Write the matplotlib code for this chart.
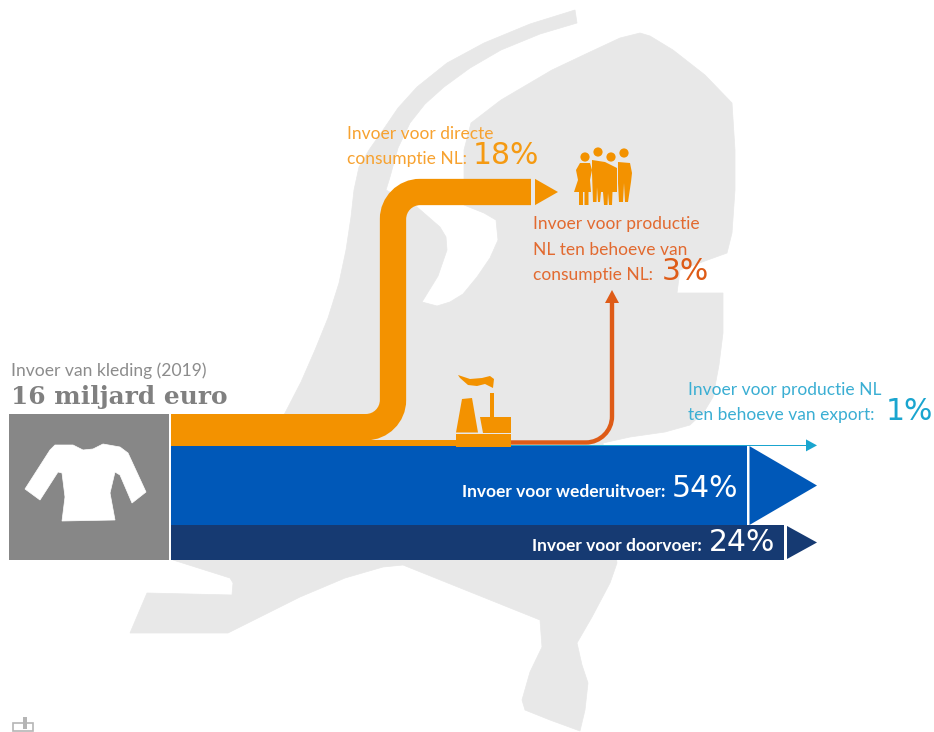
import matplotlib
matplotlib.use("Agg")
import matplotlib.pyplot as plt
from matplotlib.patches import Polygon, Rectangle, Circle, PathPatch
from matplotlib.path import Path

# values from the picture, share of the import in percent
categories = ["Invoer voor directe consumptie NL", "Invoer voor productie NL ten behoeve van consumptie NL",
              "Invoer voor productie NL ten behoeve van export", "Invoer voor wederuitvoer", "Invoer voor doorvoer"]
shares = [18, 3, 1, 54, 24]
share_labels = ["18%", "3%", "1%", "54%", "24%"]
total_label = "16 miljard euro"
total_title = "Invoer van kleding (2019)"

ORANGE = "#F39200"
RUST = "#DE5B17"
TEAL = "#1AA5CF"
BLUE = "#0058B8"
NAVY = "#163A72"
LAND = "#E8E8E8"
GREY = "#878787"

PX_PER_PCT = 1.46
TOP = 414
START = 171


def px(n):
    return n * 72 / 100


# outline of the country behind the flows, in figure pixels
land_outline = [(575, 10), (530, 24), (484, 43), (447, 63), (417, 87), (398, 108), (383, 130), (369, 150), (359, 167),
                (354, 190), (351, 217), (346, 250), (339, 283), (328, 318), (315, 350), (301, 382), (285, 413),
                (250, 470), (173, 560), (230, 578), (233, 583), (232, 595), (147, 593), (130, 633), (228, 633),
                (300, 597), (345, 578), (383, 567), (403, 565), (540, 620), (542, 647), (530, 672), (522, 700),
                (525, 710), (550, 720), (580, 731), (585, 710), (588, 683), (582, 665), (577, 643), (592, 617),
                (610, 583), (617, 563), (603, 443), (630, 437), (665, 432), (690, 425), (704, 412), (713, 397),
                (719, 365), (723, 333), (723, 293), (677, 293), (680, 270), (727, 253), (732, 233), (735, 190),
                (735, 150), (732, 103), (705, 75), (673, 50), (650, 36), (640, 33), (620, 38), (590, 52), (552, 70),
                (501, 100), (471, 123), (464, 150), (464, 205), (484, 213), (496, 220), (498, 240), (490, 258),
                (477, 277), (463, 294), (450, 302), (437, 306), (422, 302), (438, 276), (447, 250), (446, 237),
                (440, 227), (417, 207), (386, 190), (390, 177), (398, 148), (410, 123), (425, 104), (444, 87),
                (470, 68), (501, 50), (540, 34), (577, 23)]

shirt_outline = [(73, 95), (83, 100), (93, 99), (103, 94), (120, 97), (128, 103), (146, 142), (132, 153), (120, 125),
                 (115, 122), (110, 143), (115, 170), (62, 171), (65, 147), (62, 123), (58, 122), (40, 150), (25, 139),
                 (50, 100), (55, 95)]

fig = plt.figure(figsize=(9.34, 7.32), dpi=100)
ax = fig.add_axes([0, 0, 1, 1])
ax.set_xlim(0, 934)
ax.set_ylim(732, 0)
ax.axis("off")

ax.add_patch(Polygon(land_outline, closed=True, fc=LAND, ec=LAND, lw=0.5, zorder=1))

# stack of the flows, heights follow the shares
heights = [s * PX_PER_PCT for s in shares]
tops = [TOP + sum(heights[:i]) for i in range(len(heights))]

# 18%: horizontal, up and to the right
w = heights[0]
cy = tops[0] + w / 2
cx = 393
top_y = 192
r = 27
k = 0.55
verts = [(START, cy), (cx - r, cy), (cx - r + k * r, cy), (cx, cy - r + k * r), (cx, cy - r), (cx, top_y + r),
         (cx, top_y + r - k * r), (cx + r - k * r, top_y), (cx + r, top_y), (531, top_y)]
codes = [Path.MOVETO, Path.LINETO, Path.CURVE4, Path.CURVE4, Path.CURVE4, Path.LINETO,
         Path.CURVE4, Path.CURVE4, Path.CURVE4, Path.LINETO]
ax.add_patch(PathPatch(Path(verts, codes), fc="none", ec=ORANGE, lw=px(w), capstyle="butt", zorder=3))
ax.add_patch(Polygon([(535, top_y - w / 2), (558, top_y), (535, top_y + w / 2)], fc=ORANGE, ec="none", zorder=3))

# 3%: runs into the factory, comes out in rust and goes up
w = heights[1]
cy = tops[1] + w / 2
ax.add_patch(Rectangle((START, tops[1]), 286, w + heights[2], fc=ORANGE, ec="none", zorder=3))
lx = 612
r = 26
verts = [(505, cy), (lx - r, cy), (lx - r + k * r, cy), (lx, cy - r + k * r), (lx, cy - r), (lx, 301)]
codes = [Path.MOVETO, Path.LINETO, Path.CURVE4, Path.CURVE4, Path.CURVE4, Path.LINETO]
ax.add_patch(PathPatch(Path(verts, codes), fc="none", ec=RUST, lw=px(w), capstyle="butt", zorder=3))
ax.add_patch(Polygon([(605, 303), (612, 290), (619, 303)], fc=RUST, ec="none", zorder=3))

# 1%: thin line with arrow
w = heights[2]
cy = tops[2] + w / 2
ax.add_patch(Rectangle((505, tops[2]), 302, w, fc=TEAL, ec="none", zorder=3))
ax.add_patch(Polygon([(806, cy - 6), (817, cy), (806, cy + 6)], fc=TEAL, ec="none", zorder=3))

# 54% and 24%: bars with a separate head
ax.add_patch(Rectangle((START, tops[3]), 576, heights[3], fc=BLUE, ec="none", zorder=2))
ax.add_patch(Polygon([(749.5, tops[3]), (817, tops[3] + heights[3] / 2), (749.5, tops[3] + heights[3])],
                     fc=BLUE, ec="none", zorder=2))
ax.add_patch(Rectangle((START, tops[4]), 613, heights[4], fc=NAVY, ec="none", zorder=2))
ax.add_patch(Polygon([(787, tops[4] + 1), (817, tops[4] + heights[4] / 2), (787, tops[4] + heights[4] - 1)],
                     fc=NAVY, ec="none", zorder=2))

# grey block with the shirt
ax.add_patch(Rectangle((8.5, 413.5), 160.5, 146, fc=GREY, ec="none", zorder=2))
ax.add_patch(Polygon([(x, y + 350) for x, y in shirt_outline], fc="white", ec="white", lw=0.5, zorder=3))

# factory
ax.add_patch(Rectangle((456, 434), 55, 13, fc=ORANGE, ec="none", zorder=4))
ax.add_patch(Polygon([(456, 432.5), (462, 399), (472, 398), (478, 432.5)], fc=ORANGE, ec="none", zorder=4))
ax.add_patch(Polygon([(480, 417), (511, 417), (511, 432.5), (483, 432.5)], fc=ORANGE, ec="none", zorder=4))
ax.add_patch(Rectangle((489.5, 393), 4, 25, fc=ORANGE, ec="none", zorder=4))
ax.add_patch(Polygon([(458, 375), (470, 379), (482, 378), (490, 376), (494, 379), (493, 388), (485, 384), (477, 386),
                      (468, 385), (460, 378)], fc=ORANGE, ec="none", zorder=4))

# people
for hx, hy in [(585, 157), (598, 152), (611, 157), (624, 153)]:
    ax.add_patch(Circle((hx, hy), 4.6, fc=ORANGE, ec="none", zorder=4))
people = [
    [(580, 163), (590, 163), (592, 170), (590, 180), (591, 192), (588.5, 192), (588.5, 205), (584.5, 205), (584.5, 192),
     (583, 192), (583, 205), (579, 205), (579, 192), (574, 192), (578, 180), (576, 170)],
    [(592, 160), (605, 162), (617, 168), (617, 192), (612.5, 192), (612, 205), (609, 205), (608, 193), (607.5, 205),
     (604, 205), (603, 192), (601, 192), (600, 202), (598, 202), (597, 187), (596.5, 202), (593, 202), (592, 173)],
    [(618, 162), (630, 163), (632, 173), (631, 182), (628, 202), (625, 202), (624, 183), (623, 202), (619, 202),
     (618, 183)],
]
for body in people:
    ax.add_patch(Polygon(body, fc=ORANGE, ec="none", zorder=4))

# small mark bottom left
ax.add_patch(Rectangle((13, 723), 20, 8, fc="none", ec="#B5B5B5", lw=1.2, zorder=2))
ax.add_patch(Rectangle((23, 717), 4, 12, fc="#B5B5B5", ec="none", zorder=2))

# texts
BODY = "Lato"
PCT = "DejaVu Sans"


def label(x, y, s, color, size=12.5, family=BODY, weight="normal"):
    ax.text(x, y, s, color=color, fontsize=size, family=family, weight=weight, va="baseline", ha="left", zorder=6)


label(11, 376, total_title, "#8C8C8C", size=12.6)
label(11, 404, total_label, "#808080", size=17.9, family="DejaVu Serif", weight="bold")

label(347, 139, "Invoer voor directe", "#F7A230")
label(347, 164, "consumptie NL:", "#F7A230")
label(473, 164, share_labels[0], "#F59A12", size=21.5, family=PCT)

label(533, 229, "Invoer voor productie", "#E26A30")
label(533, 255, "NL ten behoeve van", "#E26A30")
label(533, 280, "consumptie NL:", "#E26A30")
label(662, 280, share_labels[1], RUST, size=21.5, family=PCT)

label(688, 395, "Invoer voor productie NL", "#3AAED3")
label(688, 420, "ten behoeve van export:", "#3AAED3")
label(886, 420, share_labels[2], TEAL, size=21.5, family=PCT)

label(462, 497, "Invoer voor wederuitvoer:", "white", weight="bold")
label(672, 497, share_labels[3], "white", size=21.5, family=PCT)
label(532, 551, "Invoer voor doorvoer:", "white", weight="bold")
label(709, 551, share_labels[4], "white", size=21.5, family=PCT)

fig.savefig("out.png", dpi=100)
